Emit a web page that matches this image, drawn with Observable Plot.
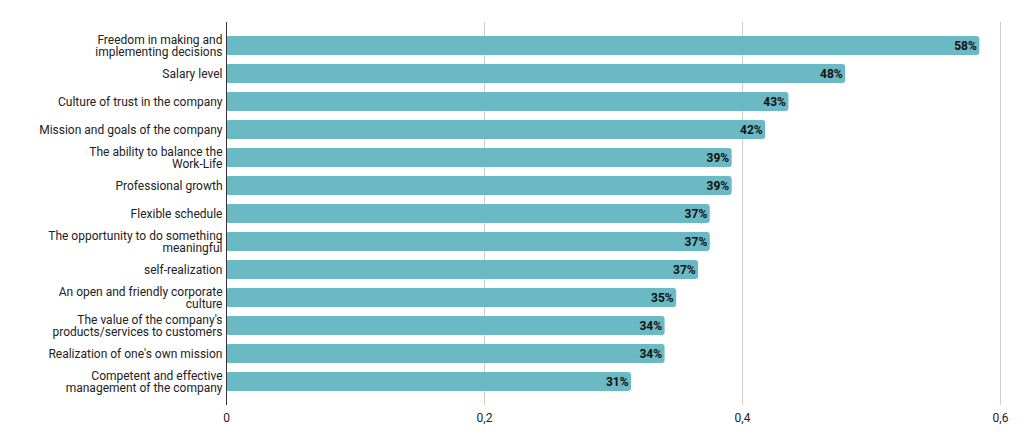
<!DOCTYPE html>
<html><head><meta charset="utf-8">
<script src="https://cdn.jsdelivr.net/npm/d3@7"></script>
<script src="https://cdn.jsdelivr.net/npm/@observablehq/plot@0.6"></script>
<style>body{margin:0;background:#fff;font-family:Roboto,Arial,sans-serif}</style>
</head><body><div id="c"></div>
<script>
const categories = [
  "Freedom in making and\nimplementing decisions",
  "Salary level",
  "Culture of trust in the company",
  "Mission and goals of the company",
  "The ability to balance the\nWork-Life",
  "Professional growth",
  "Flexible schedule",
  "The opportunity to do something\nmeaningful",
  "self-realization",
  "An open and friendly corporate\nculture",
  "The value of the company's\nproducts/services to customers",
  "Realization of one's own mission",
  "Competent and effective\nmanagement of the company"
];
const values = [0.584, 0.48, 0.436, 0.418, 0.392, 0.392, 0.375, 0.375, 0.366, 0.349, 0.34, 0.34, 0.314];
const labels = ["58%","48%","43%","43%".replace("43","42"),"39%","39%","37%","37%","37%","35%","34%","34%","31%"];
const xTicks = [0, 0.2, 0.4, 0.6];
const data = categories.map((c, i) => ({c, v: values[i], l: labels[i]}));
const chart = Plot.plot({
  width: 1024, height: 443,
  marginLeft: 226, marginRight: 24, marginTop: 22, marginBottom: 38,
  style: {fontFamily: "Roboto, Arial, sans-serif", fontSize: "12px", color: "#222"},
  x: {domain: [0, 0.6], ticks: xTicks, tickFormat: d => String(d).replace(".", ","), label: null, tickSize: 0, tickPadding: 8},
  y: {domain: categories, label: null, padding: 0.33, tickSize: 0, tickPadding: 4},
  marks: [
    Plot.gridX(xTicks.slice(1), {stroke: "#ccc", strokeOpacity: 1}),
    Plot.barX(data, {x: "v", y: "c", fill: "#6bb9c4", rx: 3}),
    Plot.ruleX([0], {stroke: "#333"}),
    Plot.text(data, {x: "v", y: "c", text: "l", textAnchor: "end", dx: -3, fontWeight: "bold", fill: "#111", fontSize: 12})
  ]
});
document.getElementById("c").append(chart);
</script></body></html>
